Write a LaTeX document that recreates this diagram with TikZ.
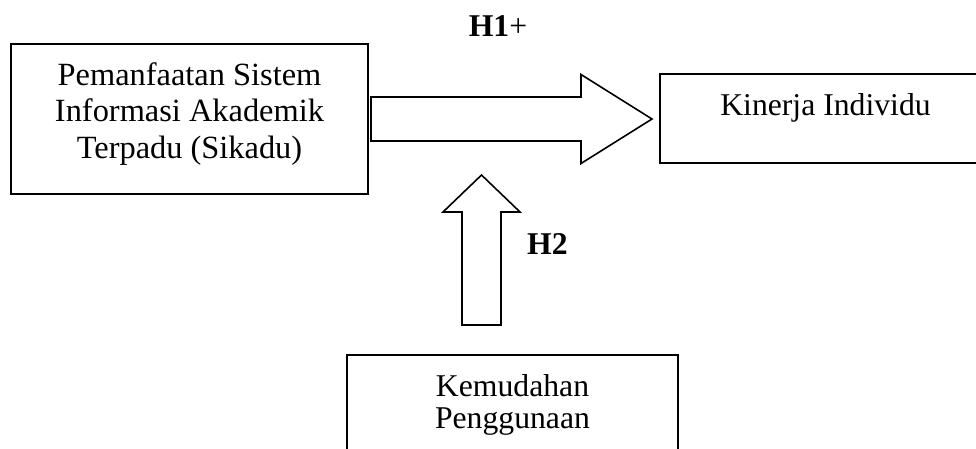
\documentclass[tikz,border=0pt]{standalone}
\usepackage{fontspec}
\setmainfont{Liberation Serif}
\usetikzlibrary{positioning,calc}

\begin{document}
\begin{tikzpicture}[x=1pt,y=1pt,
  box/.style={draw,line width=2pt,inner sep=0pt,align=center,font=\fontsize{31.7}{36.7}\selectfont},
  blockarrow/.style={draw,line width=1.6pt,line join=miter},
  hlabel/.style={inner sep=0pt,font=\fontsize{31.7}{36.7}\selectfont}]
\useasboundingbox (0,0) rectangle (976,448);
% variables
\node[box,minimum width=357,minimum height=150,text depth=17pt,font=\fontsize{32.4}{36.7}\selectfont] (pemanfaatan) at (189.5,329) {Pemanfaatan Sistem\\Informasi Akademik\\Terpadu (Sikadu)};
\node[box,minimum width=331,minimum height=89,anchor=west,label={[hlabel,anchor=north,yshift=-20pt]north:Kinerja Individu}] (kinerja) at (659,329.5) {};
\node[box,minimum width=331,minimum height=99,font=\fontsize{31.7}{32}\selectfont] (kemudahan) at (512.5,43.5) {Kemudahan\\Penggunaan};
% block arrows
\coordinate (h1tail) at ($(pemanfaatan.east)+(2,0)$);
\coordinate (h1tip) at ($(kinerja.west)+(-7,-0.5)$);
\draw[blockarrow] ($(h1tail)+(0,22)$) -- ($(h1tip)+(-71,22)$) -- ($(h1tip)+(-71,44.5)$) -- (h1tip) -- ($(h1tip)+(-71,-44.5)$) -- ($(h1tip)+(-71,-22)$) -- ($(h1tail)+(0,-22)$) -- cycle;
\coordinate (h2tail) at ($(kemudahan.north)+(-31,29)$);
\coordinate (h2tip) at ($(h2tail)+(0,150)$);
\draw[blockarrow] ($(h2tail)+(-19.5,0)$) -- ($(h2tip)+(-19.5,-37)$) -- ($(h2tip)+(-38.5,-37)$) -- (h2tip) -- ($(h2tip)+(38.5,-37)$) -- ($(h2tip)+(19.5,-37)$) -- ($(h2tail)+(19.5,0)$) -- cycle;
% hypotheses
\node[hlabel,anchor=base] (h1) at (498,411) {\textbf{H1}+};
\node[hlabel,anchor=base west] (h2) at (527,194) {\textbf{H2}};
\end{tikzpicture}
\end{document}
